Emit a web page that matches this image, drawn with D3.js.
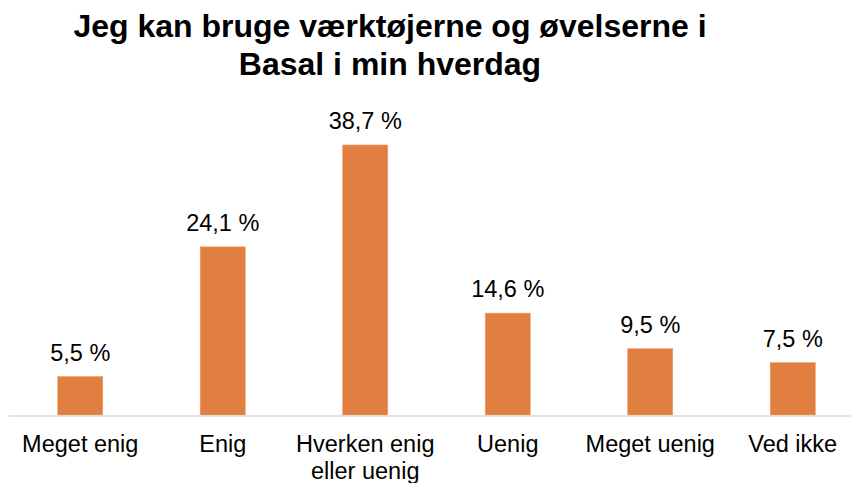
<!DOCTYPE html>
<html>
<head>
<meta charset="utf-8">
<script src="https://cdn.jsdelivr.net/npm/d3@7"></script>
<style>
  body { margin: 0; background: #fff; }
  svg text { font-family: "Liberation Sans", Arial, sans-serif; fill: #000; }
</style>
</head>
<body>
<svg id="chart" width="851" height="483"></svg>
<script>
const titleLines = ['Jeg kan bruge værktøjerne og øvelserne i', 'Basal i min hverdag'];
const categories = [['Meget enig'], ['Enig'], ['Hverken enig', 'eller uenig'], ['Uenig'], ['Meget uenig'], ['Ved ikke']];
const values = [5.5, 24.1, 38.7, 14.6, 9.5, 7.5];

var svg = d3.select('#chart'),
  width = +svg.attr('width'),
  height = +svg.attr('height');

const BASELINE = 415;
const BAR_COLOR = '#E07F3F';

var x = d3.scaleBand()
  .domain(d3.range(values.length))
  .range([9, 864])
  .padding(0);

var y = d3.scaleLinear()
  .domain([0, 38.7])
  .range([BASELINE, 145]);

var barW = x.bandwidth() * 0.316;

// title
svg.append('text')
  .attr('text-anchor', 'middle')
  .style('font-size', '32px')
  .style('font-weight', 'bold')
  .selectAll('tspan')
  .data(titleLines)
  .enter()
  .append('tspan')
  .attr('x', 390)
  .attr('y', (d, i) => 37 + i * 38)
  .text(d => d);

// bars
svg.append('g')
  .selectAll('rect')
  .data(values)
  .enter()
  .append('rect')
  .attr('x', (d, i) => x(i) + x.bandwidth() / 2 - barW / 2)
  .attr('y', d => y(d))
  .attr('width', barW)
  .attr('height', d => y(0) - y(d))
  .attr('fill', BAR_COLOR)
  .attr('stroke', '#EE9A66')
  .attr('stroke-width', 0.6);

// axis line
svg.append('line')
  .attr('x1', x.range()[0])
  .attr('x2', x.range()[1])
  .attr('y1', BASELINE + 1)
  .attr('y2', BASELINE + 1)
  .attr('stroke', '#D9D9D9')
  .attr('stroke-width', 1.5);

// value labels
svg.append('g')
  .selectAll('text')
  .data(values)
  .enter()
  .append('text')
  .attr('x', (d, i) => x(i) + x.bandwidth() / 2)
  .attr('y', d => y(d) - 16)
  .attr('text-anchor', 'middle')
  .style('font-size', '23.5px')
  .text(d => d.toFixed(1).replace('.', ',') + ' %');

// category labels
svg.append('g')
  .selectAll('text')
  .data(categories)
  .enter()
  .append('text')
  .attr('text-anchor', 'middle')
  .style('font-size', '23.5px')
  .selectAll('tspan')
  .data((d, i) => d.map(t => ({ t: t, i: i })))
  .enter()
  .append('tspan')
  .attr('x', d => x(d.i) + x.bandwidth() / 2)
  .attr('y', (d, j) => 452 + j * 27)
  .text(d => d.t);
</script>
</body>
</html>
